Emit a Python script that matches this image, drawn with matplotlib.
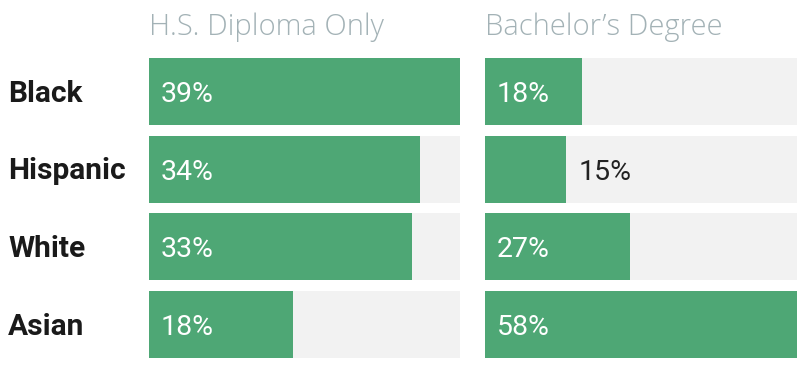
import matplotlib
matplotlib.use("Agg")
import matplotlib.pyplot as plt
from matplotlib.transforms import offset_copy

groups = ["Black", "Hispanic", "White", "Asian"]
panel_titles = ["H.S. Diploma Only", "Bachelor’s Degree"]
hs_values = [39, 34, 33, 18]
ba_values = [18, 15, 27, 58]

W, H = 812, 376
fig = plt.figure(figsize=(W / 100, H / 100), dpi=100)
green = "#4ea775"
bg = "#f2f2f2"

panels = [(149, 460, hs_values), (485, 797, ba_values)]
top_px, bot_px = 58, 358
half = 0.4295

for (x0, x1, vals), title in zip(panels, panel_titles):
    ax = fig.add_axes([x0 / W, 1 - bot_px / H, (x1 - x0) / W, (bot_px - top_px) / H])
    mx = max(vals)
    ypos = list(range(len(groups)))
    ax.barh(ypos, [mx] * len(vals), height=2 * half, color=bg, linewidth=0)
    ax.barh(ypos, vals, height=2 * half, color=green, linewidth=0)
    ax.set_xlim(0, mx)
    ax.set_ylim(len(groups) - 1 + half, -half)
    ax.axis("off")
    width_px = x1 - x0
    for y, v in zip(ypos, vals):
        bar_px = v / mx * width_px
        if bar_px > 90:
            tr = offset_copy(ax.transData, fig=fig, x=12 / 100 * 72, y=0, units="points")
            ax.text(0, y, f"{v}%", transform=tr, color="white", fontsize=20.5,
                    family="Roboto", va="center_baseline", ha="left")
        else:
            tr = offset_copy(ax.transData, fig=fig, x=13 / 100 * 72, y=0, units="points")
            ax.text(v, y, f"{v}%", transform=tr, color="#222222", fontsize=20.5,
                    family="Roboto", va="center_baseline", ha="left")
    fig.text(x0 / W, 1 - 27 / H, title, color="#a3b2b6", fontsize=21,
             family="Open Sans", fontweight="light", va="center", ha="left")

# row labels
row_centers = [91, 168, 246, 324]
for g, yc in zip(groups, row_centers):
    fig.text(8 / W, 1 - yc / H, g, fontsize=21.5, fontweight="bold", family="Roboto",
             color="#1a1a1a", va="center_baseline", ha="left")

fig.savefig("out.png", dpi=100, facecolor="white")
